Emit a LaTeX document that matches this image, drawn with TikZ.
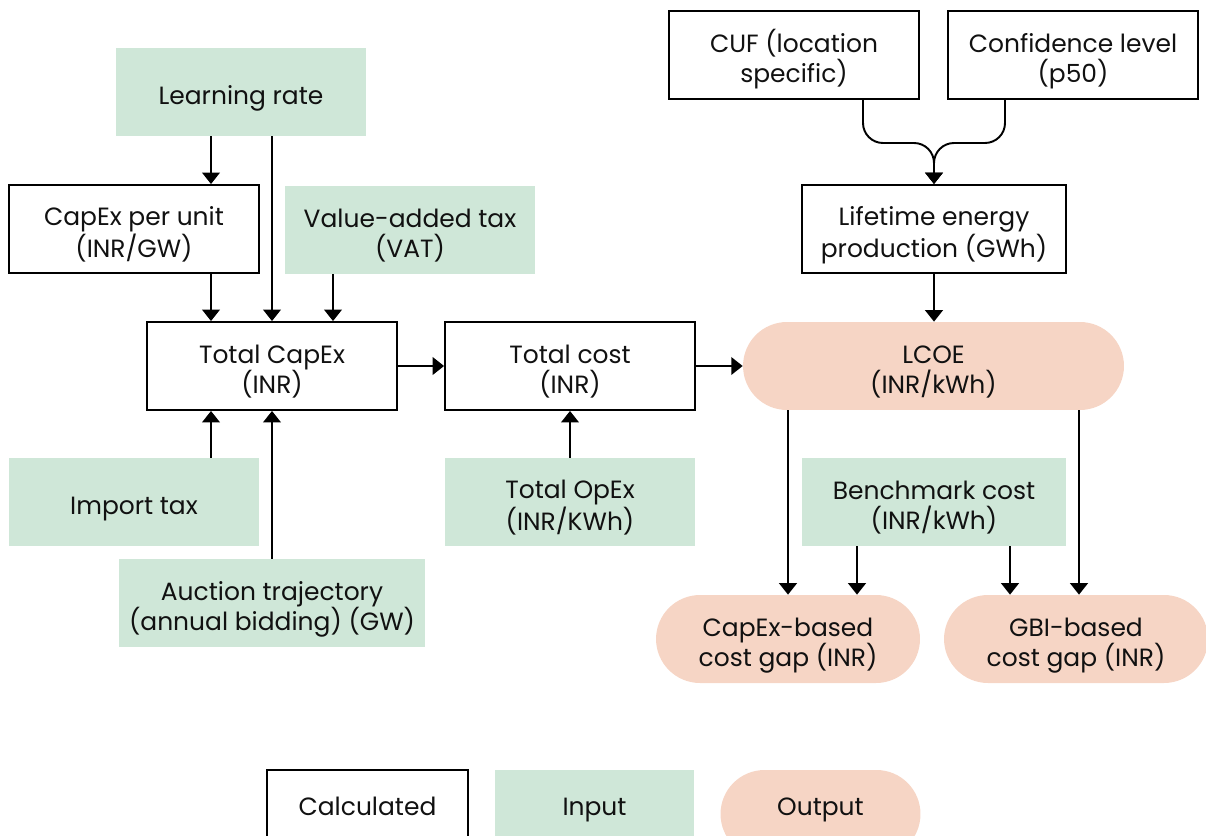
\documentclass[tikz,border=0pt]{standalone}
\usepackage{fontspec}
\setmainfont{Poppins}
\usetikzlibrary{arrows.meta}
\definecolor{inputgreen}{HTML}{CFE7D8}
\definecolor{outputpeach}{HTML}{F6D5C5}
\definecolor{inktext}{HTML}{111111}
% fixed first-line height and last-line depth, so every label sits alike
\newcommand\boxtext[1]{\rule{0pt}{18.2pt}#1\rule[-4pt]{0pt}{0pt}}

\begin{document}
\begin{tikzpicture}[x=0.02cm,y=-0.02cm,
  font=\fontsize{14.2}{17}\selectfont, text=inktext,
  calcbox/.style={draw=black, line width=1.1pt, fill=white, minimum width=5cm,
    minimum height=1.76cm, align=center, inner sep=0pt},
  inbox/.style={fill=inputgreen, minimum width=5cm, minimum height=1.76cm,
    align=center, inner sep=0pt},
  outbox/.style={fill=outputpeach, rounded corners=0.88cm, minimum width=5.28cm,
    minimum height=1.76cm, align=center, inner sep=0pt},
  legendtext/.style={inner sep=0pt},
  link/.style={line width=1.1pt, -{Triangle[width=10pt,length=6.5pt]}},
  merge/.style={link, rounded corners=0.4cm}]

\useasboundingbox (0,0) rectangle (1206,835);
\clip (0,0) rectangle (1206,835);

% inputs, calculated values and outputs
\node[inbox] (lr) at (241,92) {\boxtext{Learning rate}};
\node[calcbox] (cpu) at (134,229) {\boxtext{CapEx per unit\\(INR/GW)}};
\node[inbox] (vat) at (410,230) {\boxtext{Value-added tax\\(VAT)}};
\node[calcbox] (tcap) at (272,366) {\boxtext{Total CapEx\\(INR)}};
\node[calcbox] (tcost) at (570,366) {\boxtext{Total cost\\(INR)}};
\node[outbox, minimum width=7.62cm] (lcoe) at (933.5,366) {\boxtext{LCOE\\(INR/kWh)}};
\node[calcbox, minimum width=5.28cm] (life) at (934,229) {\boxtext{Lifetime energy\\production (GWh)}};
\node[calcbox] (cuf) at (794,55) {\boxtext{CUF (location\\specific)}};
\node[calcbox] (conf) at (1073,55) {\boxtext{Confidence level\\(p50)}};
\node[inbox] (imp) at (134,502) {\boxtext{Import tax}};
\node[inbox, minimum width=6.12cm] (auc) at (272,603) {\boxtext{Auction trajectory\\(annual bidding) (GW)}};
\node[inbox] (opex) at (570,502) {\boxtext{Total OpEx\\(INR/KWh)}};
\node[inbox, minimum width=5.28cm] (bench) at (934,502) {\boxtext{Benchmark cost\\(INR/kWh)}};
\node[outbox] (gapcap) at (788,639) {\boxtext{CapEx-based\\cost gap (INR)}};
\node[outbox] (gapgbi) at (1076,639) {\boxtext{GBI-based\\cost gap (INR)}};

% legend
\node[calcbox, minimum width=4.02cm] (lgcalc) at (367.5,814) {};
\node[inbox, minimum width=4cm] (lgin) at (594.5,814) {};
\node[outbox, minimum width=4cm] (lgout) at (820.5,814) {};
\node[legendtext] (lgcalct) at (367.5,803) {\boxtext{Calculated}};
\node[legendtext] (lgint) at (594.5,803) {\boxtext{Input}};
\node[legendtext] (lgoutt) at (820.5,803) {\boxtext{Output}};

% connector columns
\coordinate (c211) at (211,0);
\coordinate (c333) at (333,0);
\coordinate (c788) at (788,0);
\coordinate (c857) at (857,0);
\coordinate (c863) at (863,0);
\coordinate (c1005) at (1005,0);
\coordinate (c1010) at (1010,0);
\coordinate (c1079) at (1079,0);
\coordinate (jn) at (934,143);

% connectors
\draw[link] (lr.south -| c211) -- (cpu.north -| c211);
\draw[link] (lr.south -| tcap) -- (tcap.north);
\draw[link] (cpu.south -| c211) -- (tcap.north -| c211);
\draw[link] (vat.south -| c333) -- (tcap.north -| c333);
\draw[link] (imp.north -| c211) -- (tcap.south -| c211);
\draw[link] (auc.north) -- (tcap.south);
\draw[link] (tcap.east) -- (tcost.west);
\draw[link] (opex.north) -- (tcost.south);
\draw[link] (tcost.east) -- (lcoe.west);
\draw[link] (life.south) -- (lcoe.north -| life);
\draw[merge] (cuf.south -| c863) |- (jn) -- (life.north);
\draw[merge] (conf.south -| c1005) |- (jn) -- (life.north);
\draw[link] (lcoe.south -| c788) -- (gapcap.north -| c788);
\draw[link] (bench.south -| c857) -- (gapcap.north -| c857);
\draw[link] (bench.south -| c1010) -- (gapgbi.north -| c1010);
\draw[link] (lcoe.south -| c1079) -- (gapgbi.north -| c1079);
\end{tikzpicture}
\end{document}
